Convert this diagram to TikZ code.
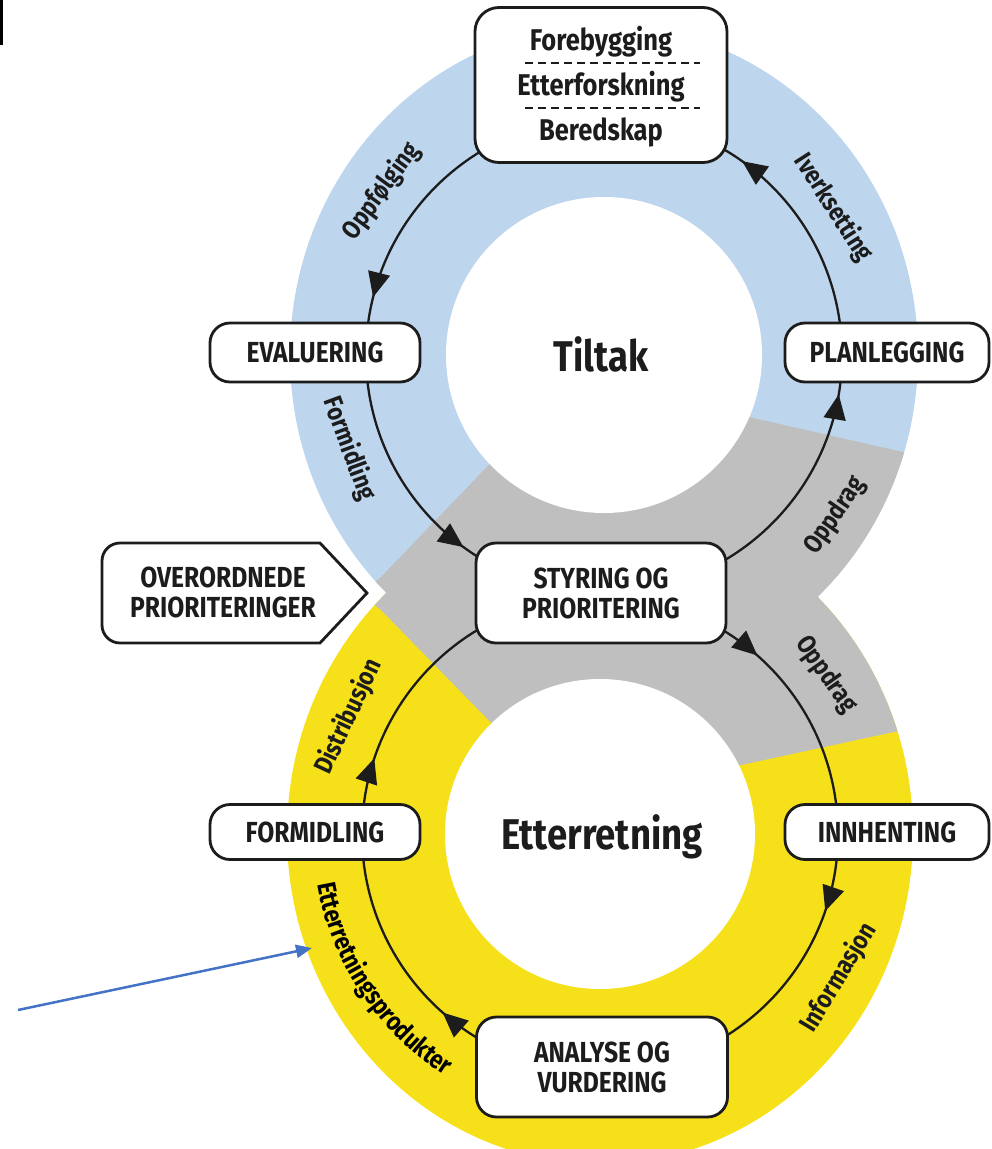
\documentclass[tikz,border=0pt]{standalone}
\usepackage{fontspec}
\setmainfont{Fira Sans}
\newfontfamily\condfont{Fira Sans}[FakeStretch=0.85]
\usetikzlibrary{arrows.meta,decorations.markings,decorations.text}

\definecolor{ringblue}{HTML}{BDD6EE}
\definecolor{ringyellow}{HTML}{F6E01A}
\definecolor{ringgray}{HTML}{BFBFBF}
\definecolor{ink}{HTML}{1C1C1C}
\definecolor{pointerblue}{HTML}{4472C4}

\newcommand\capsize{\condfont\bfseries\fontsize{29}{30}\selectfont}
\newcommand\arcfont{\condfont\bfseries\fontsize{26}{26}\selectfont}
\newcommand\boxfont{\condfont\bfseries\fontsize{30}{30}\selectfont}
\newcommand\bigfont{\condfont\bfseries\fontsize{43}{43}\selectfont}

% text set along a circular arc: ring centre, start angle, end angle, radius, text
\newcommand\arclabel[5]{%
  \path[decorate, decoration={text along path, text align=center,
      text={|\arcfont|#5}}]
    ([shift={(#2:#4)}]#1) arc[start angle=#2, end angle=#3, radius=#4];}

\begin{document}
\begin{tikzpicture}[x=1pt,y=1pt,
  stagebox/.style={draw=ink, line width=2.8pt, fill=white, rounded corners=20pt,
    inner sep=0pt, align=center, font=\capsize, text=ink},
  ringline/.style={draw=ink, line width=2.3pt},
  ringtext/.style={font=\arcfont, text=ink, inner sep=0pt},
  tipat/.style={postaction={decorate, decoration={markings,
      mark=at position #1 with {\arrow{Triangle[length=25pt,width=22pt]}}}}},
]
\useasboundingbox (0,0) rectangle (991,-1149);

% ring centres
\coordinate (tc) at (604,-355);
\coordinate (bc) at (600,-834);

% the two coloured rings forming the figure eight
\fill[ringblue] (tc) ellipse[x radius=314, y radius=330];
\fill[ringyellow] (bc) ellipse[x radius=313, y radius=330];
\begin{scope}
  \clip (tc) ellipse[x radius=314, y radius=330] (bc) ellipse[x radius=313, y radius=330];
  \fill[ringgray] (718,-410) -- (507,-446) -- (381,-577) -- (360,-594) -- (381,-610)
    -- (507,-739) -- (718,-770) -- (903,-730) -- (1000,-709) -- (1000,-474)
    -- (903,-452) -- cycle;
\end{scope}
\fill[white] (tc) circle[radius=158];
\fill[white] (bc) circle[radius=155];

% cycle arrows, upper ring (counter-clockwise)
\draw[ringline, tipat=0.844] ([shift={(90:238)}]tc) arc[start angle=90, end angle=180, radius=238];
\draw[ringline, tipat=0.598] ([shift={(180:238)}]tc) arc[start angle=180, end angle=270, radius=238];
\draw[ringline, tipat=0.894] ([shift={(270:238)}]tc) arc[start angle=270, end angle=360, radius=238];
\draw[ringline, tipat=0.606] ([shift={(0:238)}]tc) arc[start angle=0, end angle=90, radius=238];

% cycle arrows, lower ring (clockwise)
\draw[ringline, tipat=0.46] ([shift={(90:238)}]bc) arc[start angle=90, end angle=0, radius=238];
\draw[ringline, tipat=0.21] ([shift={(0:238)}]bc) arc[start angle=0, end angle=-90, radius=238];
\draw[ringline, tipat=0.46] ([shift={(270:238)}]bc) arc[start angle=270, end angle=180, radius=238];
\draw[ringline, tipat=0.206] ([shift={(180:238)}]bc) arc[start angle=180, end angle=90, radius=238];

% stage boxes
\node[stagebox, minimum width=252pt, minimum height=155pt, rounded corners=24pt] (mandate) at (601,-85) {};
\node[font=\boxfont, text=ink, anchor=base] (forebygging) at (601,-50) {Forebygging};
\node[font=\boxfont, text=ink, anchor=base] (etterforskning) at (601,-95) {Etterforskning};
\node[font=\boxfont, text=ink, anchor=base] (beredskap) at (601,-140) {Beredskap};
\draw[ink, line width=2pt, dash pattern=on 8pt off 5pt] (525,-63) -- (700,-63);
\draw[ink, line width=2pt, dash pattern=on 8pt off 5pt] (525,-108) -- (700,-108);

\node[stagebox, minimum width=210pt, minimum height=59pt] (evaluering) at (315,-352.5) {EVALUERING};
\node[stagebox, minimum width=204pt, minimum height=59pt] (planlegging) at (887,-352.5) {PLANLEGGING};
\node[stagebox, minimum width=250pt, minimum height=100pt] (styring) at (601,-593) {STYRING OG\\PRIORITERING};
\node[stagebox, minimum width=210pt, minimum height=55pt] (formidling) at (315,-832) {FORMIDLING};
\node[stagebox, minimum width=204pt, minimum height=55pt] (innhenting) at (887,-832) {INNHENTING};
\node[stagebox, minimum width=251pt, minimum height=100pt] (analyse) at (602,-1067) {ANALYSE OG\\VURDERING};

% input tag on the left
\draw[draw=ink, line width=2.8pt, fill=white]
  (320,-543) -- (367,-593) -- (320,-643) -- (120,-643)
  arc[start angle=270, end angle=180, radius=18] -- (102,-561)
  arc[start angle=180, end angle=90, radius=18] -- cycle;
\node[font=\capsize, text=ink, align=center] (overordnede) at (223,-592) {OVERORDNEDE\\PRIORITERINGER};

% ring titles
\node[font=\bigfont, text=ink, anchor=base] (tiltak) at (601,-371) {Tiltak};
\node[font=\bigfont, text=ink, anchor=base] (etterretning) at (602,-849) {Etterretning};

% labels beside the arrows, turned to follow the ring
\node[ringtext, rotate=53.7] (lbl-oppfolging) at ([shift={(143.7:276.5)}]tc) {Oppfølging};
\node[ringtext, rotate=-69.8] (lbl-formidling) at ([shift={(200.2:271.5)}]tc) {Formidling};
\node[ringtext, rotate=55.2] (lbl-oppdrag-top) at ([shift={(-34.8:281.5)}]tc) {Oppdrag};
\node[ringtext, rotate=-57.3] (lbl-iverksetting) at ([shift={(32.7:272.5)}]tc) {Iverksetting};
\node[ringtext, rotate=-54.8] (lbl-oppdrag-bot) at ([shift={(35.2:276.5)}]bc) {Oppdrag};
\node[ringtext, rotate=59] (lbl-informasjon) at ([shift={(-31:278.5)}]bc) {Informasjon};
\node[ringtext, rotate=65] (lbl-distribusjon) at ([shift={(155:277.5)}]bc) {Distribusjon};
\arclabel{bc}{178.7}{248.7}{287}{Etterretningsprodukter}

% pointer arrow and edge mark
\coordinate (ptrtail) at (18,-1010);
\coordinate (ptrhead) at (312,-948);
\draw[pointerblue, line width=2.5pt, -{Triangle[length=16pt,width=13pt]}] (ptrtail) -- (ptrhead);
\fill[black] (0,0) rectangle (2.5,-45);
\end{tikzpicture}
\end{document}
